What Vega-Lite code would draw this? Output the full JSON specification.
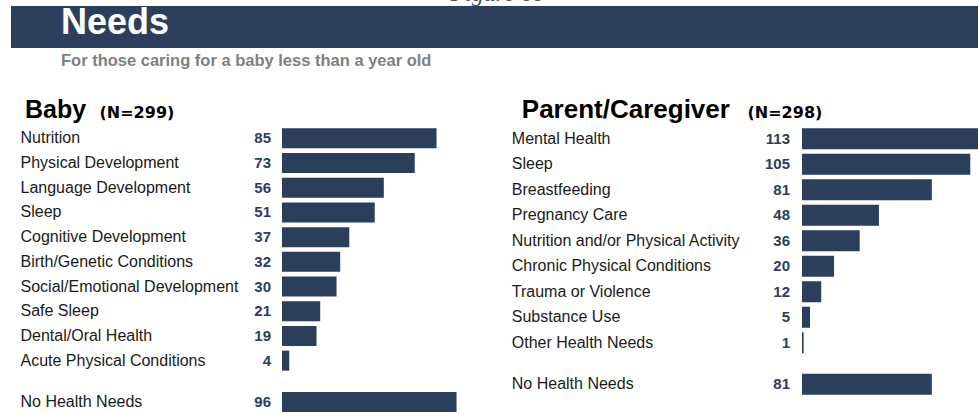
{
  "$schema": "https://vega.github.io/schema/vega-lite/v6.json",
  "autosize": {"type": "none"},
  "padding": {"left": 11, "top": 6, "right": 967, "bottom": 408},
  "background": "white",
  "title": {
    "text": "Figure 60",
    "orient": "top",
    "anchor": "middle",
    "baseline": "alphabetic",
    "offset": -20,
    "dx": 3,
    "font": "Liberation Serif",
    "fontStyle": "italic",
    "fontWeight": "normal",
    "fontSize": 24,
    "color": "#44546a"
  },
  "config": {
    "view": {"stroke": null},
    "font": "Liberation Sans",
    "text": {"font": "Liberation Sans"},
    "axis": {"labelFont": "Liberation Sans", "titleFont": "Liberation Sans"}
  },
  "datasets": {
    "needs": [
      {"panel": "Baby", "need": "Nutrition", "count": 85, "kind": "need"},
      {"panel": "Baby", "need": "Physical Development", "count": 73, "kind": "need"},
      {"panel": "Baby", "need": "Language Development", "count": 56, "kind": "need"},
      {"panel": "Baby", "need": "Sleep", "count": 51, "kind": "need"},
      {"panel": "Baby", "need": "Cognitive Development", "count": 37, "kind": "need"},
      {"panel": "Baby", "need": "Birth/Genetic Conditions", "count": 32, "kind": "need"},
      {"panel": "Baby", "need": "Social/Emotional Development", "count": 30, "kind": "need"},
      {"panel": "Baby", "need": "Safe Sleep", "count": 21, "kind": "need"},
      {"panel": "Baby", "need": "Dental/Oral Health", "count": 19, "kind": "need"},
      {"panel": "Baby", "need": "Acute Physical Conditions", "count": 4, "kind": "need"},
      {"panel": "Baby", "need": "No Health Needs", "count": 96, "kind": "none"},
      {"panel": "Parent/Caregiver", "need": "Mental Health", "count": 113, "kind": "need"},
      {"panel": "Parent/Caregiver", "need": "Sleep", "count": 105, "kind": "need"},
      {"panel": "Parent/Caregiver", "need": "Breastfeeding", "count": 81, "kind": "need"},
      {"panel": "Parent/Caregiver", "need": "Pregnancy Care", "count": 48, "kind": "need"},
      {"panel": "Parent/Caregiver", "need": "Nutrition and/or Physical Activity", "count": 36, "kind": "need"},
      {"panel": "Parent/Caregiver", "need": "Chronic Physical Conditions", "count": 20, "kind": "need"},
      {"panel": "Parent/Caregiver", "need": "Trauma or Violence", "count": 12, "kind": "need"},
      {"panel": "Parent/Caregiver", "need": "Substance Use", "count": 5, "kind": "need"},
      {"panel": "Parent/Caregiver", "need": "Other Health Needs", "count": 1, "kind": "need"},
      {"panel": "Parent/Caregiver", "need": "No Health Needs", "count": 81, "kind": "none"}
    ]
  },
  "spacing": 27,
  "vconcat": [
    {
      "width": 967,
      "height": 42,
      "data": {"values": [{"band": "Needs"}]},
      "view": {"fill": "#2b3e5c", "stroke": null},
      "mark": {"type": "rect", "color": "#2b3e5c"},
      "title": {
        "text": "Needs",
        "subtitle": "For those caring for a baby less than a year old",
        "orient": "top",
        "anchor": "start",
        "frame": "group",
        "dx": 50,
        "offset": -64,
        "baseline": "top",
        "color": "#ffffff",
        "font": "Liberation Sans",
        "fontSize": 36,
        "fontWeight": "bold",
        "subtitleColor": "#7f7f7f",
        "subtitleFont": "Liberation Sans",
        "subtitleFontSize": 16.5,
        "subtitleFontWeight": "bold",
        "subtitlePadding": 11
      }
    },
    {
      "spacing": 29,
      "hconcat": [
        {
          "spacing": 16.7,
          "vconcat": [
            {
              "width": 471,
              "height": 247,
              "data": {"name": "needs"},
              "transform": [{"filter": "datum.panel === 'Baby' && datum.kind === 'need'"}],
              "encoding": {
                "y": {
                  "field": "need", "type": "nominal",
                  "sort": {"field": "count", "order": "descending"},
                  "scale": {"paddingInner": 0.19, "paddingOuter": 0.095},
                  "axis": {
                    "orient": "left", "domain": false, "ticks": false,
                    "labelPadding": -9, "labelAlign": "left", "labelFontSize": 16, "labelColor": "#1a1a1a", "labelLimit": 400,
                    "title": "Baby", "titleAngle": 0, "titleAlign": "left", "titleBaseline": "alphabetic",
                    "titleX": 13.5, "titleY": -9, "titleFontSize": 25, "titleFontWeight": "bold", "titleColor": "#000000"
                  }
                }
              },
              "layer": [
                {
                  "mark": {"type": "bar", "color": "#2b3e5c", "clip": true},
                  "encoding": {
                    "x": {
                      "field": "count", "type": "quantitative",
                      "scale": {"domain": [0, 105.65], "range": [271, 471]},
                      "axis": {
                        "orient": "top", "domain": false, "ticks": false, "labels": false, "grid": false,
                        "title": "(N=299)", "titleX": 88, "titleY": -9, "titleAlign": "left", "titleAngle": 0,
                        "titleBaseline": "alphabetic", "titleFont": "DejaVu Sans", "titleFontSize": 16,
                        "titleFontWeight": "bold", "titleColor": "#000000"
                      }
                    }
                  }
                },
                {
                  "mark": {"type": "text", "align": "right", "baseline": "middle", "dx": -11, "fontSize": 15, "fontWeight": "bold", "color": "#2b3e5c"},
                  "encoding": {"x": {"datum": 0}, "text": {"field": "count"}}
                }
              ]
            },
            {
              "width": 471,
              "height": 24.7,
              "data": {"name": "needs"},
              "transform": [{"filter": "datum.panel === 'Baby' && datum.kind === 'none'"}],
              "encoding": {
                "y": {
                  "field": "need", "type": "nominal",
                  "scale": {"paddingInner": 0.19, "paddingOuter": 0.095},
                  "axis": {
                    "orient": "left", "domain": false, "ticks": false,
                    "labelPadding": -9, "labelAlign": "left", "labelFontSize": 16, "labelColor": "#1a1a1a", "labelLimit": 400,
                    "title": null
                  }
                }
              },
              "layer": [
                {
                  "mark": {"type": "bar", "color": "#2b3e5c", "clip": true},
                  "encoding": {"x": {"field": "count", "type": "quantitative", "scale": {"domain": [0, 105.65], "range": [271, 471]}, "axis": null}}
                },
                {
                  "mark": {"type": "text", "align": "right", "baseline": "middle", "dx": -11, "fontSize": 15, "fontWeight": "bold", "color": "#2b3e5c"},
                  "encoding": {"x": {"datum": 0}, "text": {"field": "count"}}
                }
              ]
            }
          ]
        },
        {
          "spacing": 15.55,
          "vconcat": [
            {
              "width": 176.3,
              "height": 229.5,
              "data": {"name": "needs"},
              "transform": [{"filter": "datum.panel === 'Parent/Caregiver' && datum.kind === 'need'"}],
              "encoding": {
                "y": {
                  "field": "need", "type": "nominal",
                  "sort": {"field": "count", "order": "descending"},
                  "scale": {"paddingInner": 0.176, "paddingOuter": 0.088},
                  "axis": {
                    "orient": "left", "domain": false, "ticks": false,
                    "labelPadding": 290.7, "labelAlign": "left", "labelFontSize": 16, "labelColor": "#1a1a1a", "labelLimit": 400,
                    "title": "Parent/Caregiver", "titleAngle": 0, "titleAlign": "left", "titleBaseline": "alphabetic",
                    "titleX": -280.7, "titleY": -9, "titleFontSize": 26, "titleFontWeight": "bold", "titleColor": "#000000"
                  }
                }
              },
              "layer": [
                {
                  "mark": {"type": "bar", "color": "#2b3e5c", "clip": true},
                  "encoding": {
                    "x": {
                      "field": "count", "type": "quantitative",
                      "scale": {"domain": [0, 107.3]},
                      "axis": {
                        "orient": "top", "domain": false, "ticks": false, "labels": false, "grid": false,
                        "title": "(N=298)", "titleX": -55, "titleY": -9, "titleAlign": "left", "titleAngle": 0,
                        "titleBaseline": "alphabetic", "titleFont": "DejaVu Sans", "titleFontSize": 16,
                        "titleFontWeight": "bold", "titleColor": "#000000"
                      }
                    }
                  }
                },
                {
                  "mark": {"type": "text", "align": "right", "baseline": "middle", "dx": -12, "fontSize": 15, "fontWeight": "bold", "color": "#2b3e5c"},
                  "encoding": {"x": {"datum": 0}, "text": {"field": "count"}}
                }
              ]
            },
            {
              "width": 176.3,
              "height": 25.5,
              "data": {"name": "needs"},
              "transform": [{"filter": "datum.panel === 'Parent/Caregiver' && datum.kind === 'none'"}],
              "encoding": {
                "y": {
                  "field": "need", "type": "nominal",
                  "scale": {"paddingInner": 0.176, "paddingOuter": 0.088},
                  "axis": {
                    "orient": "left", "domain": false, "ticks": false,
                    "labelPadding": 290.7, "labelAlign": "left", "labelFontSize": 16, "labelColor": "#1a1a1a", "labelLimit": 400,
                    "title": null
                  }
                }
              },
              "layer": [
                {
                  "mark": {"type": "bar", "color": "#2b3e5c", "clip": true},
                  "encoding": {"x": {"field": "count", "type": "quantitative", "scale": {"domain": [0, 107.3]}, "axis": null}}
                },
                {
                  "mark": {"type": "text", "align": "right", "baseline": "middle", "dx": -12, "fontSize": 15, "fontWeight": "bold", "color": "#2b3e5c"},
                  "encoding": {"x": {"datum": 0}, "text": {"field": "count"}}
                }
              ]
            }
          ]
        }
      ]
    }
  ]
}
